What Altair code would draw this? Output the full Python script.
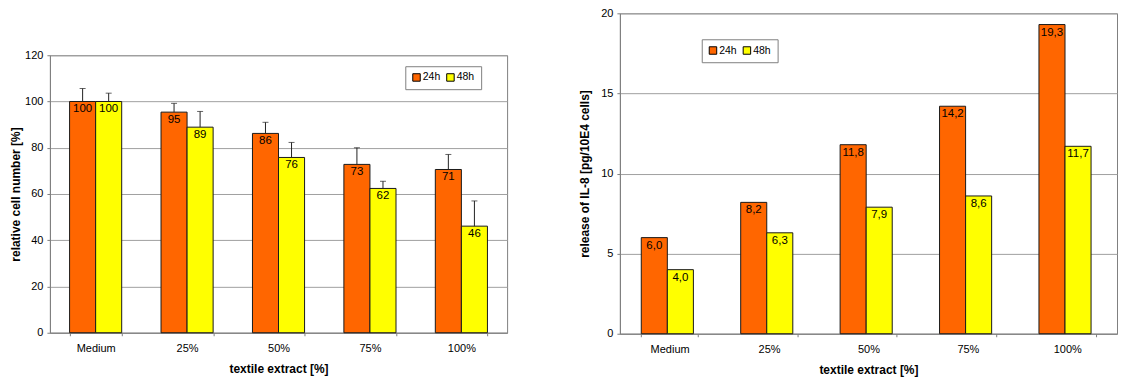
import altair as alt
import pandas as pd

categories = ["Medium", "25%", "50%", "75%", "100%"]
series = ["24h", "48h"]
colors = ["#FF6600", "#FFFF00"]

cell_24h = [100, 95.4, 86.2, 72.8, 70.6]
cell_48h = [100, 88.9, 75.8, 62.4, 46.1]
cell_err_24h = [5.6, 3.8, 4.8, 7.2, 6.5]
cell_err_48h = [3.6, 6.8, 6.5, 3.1, 10.9]

il8_24h = [6.0, 8.2, 11.8, 14.2, 19.3]
il8_48h = [4.0, 6.3, 7.9, 8.6, 11.7]

FONT = "Liberation Sans"
GREY = "#808080"


def build_table(v24, v48, e24=None, e48=None, decimals=0):
    rows = []
    for s, vals, errs in (("24h", v24, e24), ("48h", v48, e48)):
        for i, c in enumerate(categories):
            v = vals[i]
            if decimals == 0:
                lab = str(int(round(v)))
            else:
                lab = f"{v:.{decimals}f}".replace(".", ",")
            row = {"cat": c, "series": s, "value": v, "label": lab}
            if errs is not None:
                row["upper"] = v + errs[i]
            rows.append(row)
    return pd.DataFrame(rows)


def panel(df, ymax, yvals, ytitle, w, h, lx, ly, title_pad, with_err):
    x = alt.X(
        "cat:N",
        sort=categories,
        title="textile extract [%]",
        scale=alt.Scale(paddingInner=0.43, paddingOuter=0.215),
        axis=alt.Axis(
            labelAngle=0, tickBand="extent", tickSize=3, labelPadding=7,
            titlePadding=10, domainColor=GREY, tickColor=GREY, grid=False,
            labelFont=FONT, labelFontSize=11, labelColor="black",
            titleFont=FONT, titleFontSize=12, titleFontWeight="bold",
            titleColor="black",
        ),
    )
    xo = alt.XOffset("series:N", sort=series,
                     scale=alt.Scale(paddingInner=0, paddingOuter=0))
    y = alt.Y(
        "value:Q",
        title=ytitle,
        scale=alt.Scale(domain=[0, ymax], nice=False),
        axis=alt.Axis(
            values=yvals, grid=True, gridColor="#A0A0A0", tickSize=3,
            tickColor=GREY, domainColor=GREY, labelPadding=4,
            titlePadding=title_pad, labelFont=FONT, labelFontSize=11,
            labelColor="black", titleFont=FONT, titleFontSize=12,
            titleFontWeight="bold", titleColor="black",
        ),
    )
    base = alt.Chart(df)
    bars = base.mark_bar(stroke="#1a1a1a", strokeWidth=1).encode(
        x=x, xOffset=xo, y=y,
        color=alt.Color(
            "series:N",
            scale=alt.Scale(domain=series, range=colors),
            legend=alt.Legend(
                title=None, orient="none", legendX=lx, legendY=ly,
                direction="horizontal", strokeColor=GREY, fillColor="white",
                padding=6, symbolType="square", symbolSize=56,
                symbolStrokeColor="black", symbolStrokeWidth=1,
                labelFont=FONT, labelFontSize=10.5, labelColor="black",
                labelOffset=1, columnPadding=3,
            ),
        ),
    )
    layers = [bars]
    if with_err:
        rule = base.mark_rule(color="#222222", strokeWidth=1).encode(
            x=alt.X("cat:N", sort=categories), xOffset=xo,
            y=alt.Y("value:Q"), y2="upper:Q",
        )
        cap = base.mark_tick(color="#222222", size=6, thickness=1,
                             orient="horizontal").encode(
            x=alt.X("cat:N", sort=categories), xOffset=xo,
            y=alt.Y("upper:Q"),
        )
        layers += [rule, cap]
    text = base.mark_text(baseline="top", dy=2, font=FONT, fontSize=11.5,
                          color="black").encode(
        x=alt.X("cat:N", sort=categories), xOffset=xo,
        y=alt.Y("value:Q"), text="label:N",
    )
    layers.append(text)
    return alt.layer(*layers).properties(
        width=w, height=h, view=alt.ViewBackground(stroke=GREY, fill="white")
    )


cell_df = build_table(cell_24h, cell_48h, cell_err_24h, cell_err_48h, 0)
il8_df = build_table(il8_24h, il8_48h, decimals=1)

left = panel(cell_df, 120, [0, 20, 40, 60, 80, 100, 120],
             "relative cell number [%]", 458, 278, 356, 11, 2, True)
right = panel(il8_df, 20, [0, 5, 10, 15, 20],
              "release of IL-8 [pg/10E4 cells]", 498, 321, 82, 26, 9, False)

spacer = alt.Chart(pd.DataFrame({"v": [0]})).mark_point(opacity=0).encode(
    x=alt.X("v:Q", axis=None), y=alt.Y("v:Q", axis=None)
).properties(width=458, height=30,
             view=alt.ViewBackground(strokeOpacity=0))

left_col = alt.vconcat(spacer, left, spacing=5).resolve_scale(
    color="independent"
).resolve_legend(color="independent")

chart = alt.hconcat(
    left_col,
    right,
    spacing=70,
).resolve_scale(color="independent").resolve_legend(
    color="independent"
).properties(
    padding={"left": 1, "top": -2, "right": 0, "bottom": 0},
    background="white",
)

chart.save("out.html", embed_options={"renderer": "svg", "actions": False})
